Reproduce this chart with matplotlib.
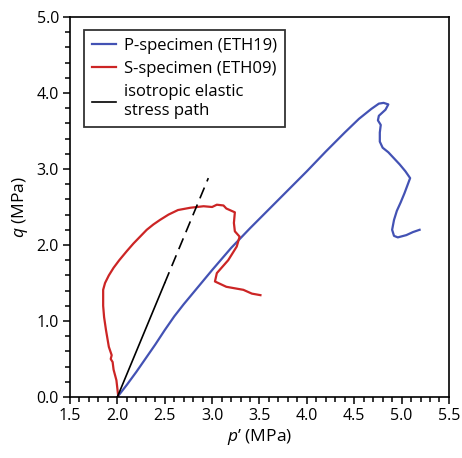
import matplotlib
matplotlib.use("Agg")
import matplotlib.pyplot as plt
from matplotlib.ticker import MultipleLocator, FormatStrFormatter

plt.rcParams['font.family'] = ['Open Sans', 'DejaVu Sans']
plt.rcParams['mathtext.fontset'] = 'custom'
plt.rcParams['mathtext.it'] = 'Open Sans:italic'
plt.rcParams['mathtext.rm'] = 'Open Sans'

# P-specimen (ETH19) stress path
p_blue = [2.00, 2.10, 2.20, 2.30, 2.40, 2.50, 2.60, 2.70, 2.80, 2.90, 3.00,
          3.20, 3.40, 3.60, 3.80, 4.00, 4.20, 4.40, 4.55, 4.68, 4.76, 4.81,
          4.86, 4.83, 4.76, 4.75, 4.78, 4.77, 4.77, 4.80, 4.86, 4.92, 4.98,
          5.04, 5.09, 5.06, 5.03, 4.99, 4.95, 4.92, 4.90, 4.92, 4.96, 5.05,
          5.12, 5.19]
q_blue = [0.00, 0.16, 0.33, 0.51, 0.69, 0.88, 1.06, 1.22, 1.37, 1.52, 1.67,
          1.96, 2.22, 2.47, 2.72, 2.97, 3.23, 3.48, 3.66, 3.79, 3.86, 3.87,
          3.85, 3.78, 3.70, 3.64, 3.58, 3.48, 3.36, 3.28, 3.22, 3.14, 3.06,
          2.97, 2.88, 2.78, 2.68, 2.56, 2.45, 2.33, 2.20, 2.12, 2.10, 2.13,
          2.17, 2.20]

# S-specimen (ETH09) stress path
p_red = [2.01, 1.99, 1.96, 1.95, 1.93, 1.94, 1.91, 1.88, 1.86, 1.85, 1.85,
         1.87, 1.91, 1.96, 2.02, 2.10, 2.17, 2.24, 2.31, 2.38, 2.45, 2.54,
         2.64, 2.77, 2.91, 3.00, 3.05, 3.12, 3.15, 3.24, 3.23, 3.24, 3.29,
         3.26, 3.17, 3.05, 3.03, 3.15, 3.33, 3.42, 3.51]
q_red = [0.00, 0.22, 0.36, 0.46, 0.50, 0.55, 0.66, 0.88, 1.05, 1.20, 1.41,
         1.50, 1.60, 1.70, 1.80, 1.92, 2.02, 2.11, 2.20, 2.27, 2.33, 2.40,
         2.46, 2.49, 2.51, 2.50, 2.53, 2.52, 2.48, 2.43, 2.29, 2.18, 2.11,
         1.98, 1.80, 1.63, 1.52, 1.45, 1.41, 1.36, 1.34]

# isotropic elastic stress path (solid part, dashed extension)
p_iso = [2.00, 2.50]
q_iso = [0.00, 1.50]
p_iso_ext = [2.50, 2.96]
q_iso_ext = [1.50, 2.88]

blue = '#4352b4'
red = '#cc2525'

fig = plt.figure(figsize=(4.62, 4.58), dpi=100)
ax = fig.add_axes([0.1515, 0.1332, 0.8203, 0.8297])

ax.plot(p_blue, q_blue, color=blue, lw=1.6, label='P-specimen (ETH19)')
ax.plot(p_red, q_red, color=red, lw=1.6, label='S-specimen (ETH09)')
ax.plot(p_iso, q_iso, color='black', lw=1.2, label='isotropic elastic\nstress path')
ax.plot(p_iso_ext, q_iso_ext, color='black', lw=1.2, dashes=(7, 4))

ax.set_xlim(1.5, 5.5)
ax.set_ylim(0, 5.0)
ax.xaxis.set_major_locator(MultipleLocator(0.5))
ax.xaxis.set_minor_locator(MultipleLocator(0.1))
ax.yaxis.set_major_locator(MultipleLocator(1.0))
ax.yaxis.set_minor_locator(MultipleLocator(0.2))
ax.xaxis.set_major_formatter(FormatStrFormatter('%.1f'))
ax.yaxis.set_major_formatter(FormatStrFormatter('%.1f'))
ax.tick_params(which='both', direction='out', width=1.1, labelsize=11.5, colors='black')
ax.tick_params(which='major', length=5, pad=3)
ax.tick_params(which='minor', length=3.5)
for s in ax.spines.values():
    s.set_linewidth(1.2)

ax.set_xlabel(r"$p$’ (MPa)", fontsize=12.5, labelpad=2)
ax.set_ylabel(r"$q$ (MPa)", fontsize=12.5, labelpad=5)

leg = ax.legend(loc='upper left', fontsize=12, frameon=True, fancybox=False,
                edgecolor='black', handlelength=1.4, handletextpad=0.5,
                borderpad=0.5, labelspacing=0.42, borderaxespad=0,
                bbox_to_anchor=(0.037, 0.966))
leg.get_frame().set_linewidth(1.3)

fig.savefig('out.png', dpi=100)
